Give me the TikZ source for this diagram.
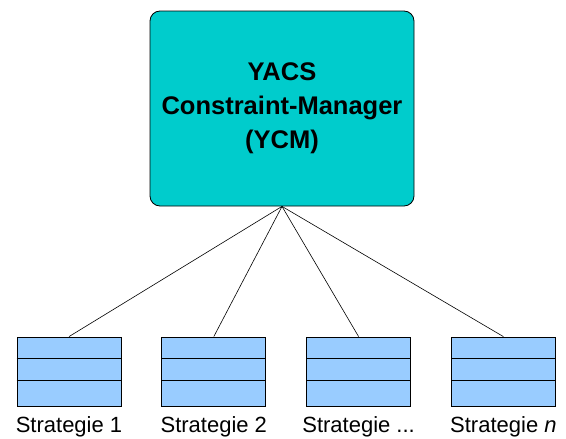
\documentclass[tikz,border=0pt]{standalone}
\usepackage{fontspec}
\setmainfont{Liberation Sans}
\usetikzlibrary{positioning}
\definecolor{ycmcyan}{RGB}{0,204,204}
\definecolor{stratblue}{RGB}{153,204,255}
\tikzset{
    %Define style for the manager box
    mgr/.style={
           rectangle, rounded corners=10pt,
           draw=black, fill=ycmcyan, line width=0.8pt,
           minimum width=264pt, minimum height=195pt,
           align=center,
           font=\bfseries\fontsize{25.5}{34}\selectfont},
    %Define style for strategy boxes
    strat/.style={
           rectangle,
           draw=black, fill=stratblue, line width=0.8pt,
           minimum width=104pt, minimum height=69pt},
    % Define line style
    lin/.style={
           line width=0.6pt}
}
\begin{document}
\begin{tikzpicture}[x=1pt, y=-1pt, node distance=40pt,
lbl/.style={font=\fontsize{22}{24}\selectfont, inner sep=0pt}
]
\useasboundingbox (0,0) rectangle (566,439);
%Nodes
\node[mgr] (ycm) at (282,108.5) {YACS\\Constraint-Manager\\(YCM)};
\node[strat] (strat1) at (69,371.5) {};
\node[strat] (strat2) [right=of strat1] {};
\node[strat] (strat3) [right=of strat2] {};
\node[strat] (strat4) [right=of strat3] {};
\node[lbl] (lab1) [below=10pt of strat1] {Strategie 1};
\node[lbl] (lab2) [below=10pt of strat2] {Strategie 2};
\node[lbl] (lab3) [below=10pt of strat3] {Strategie ...};
\node[lbl] (lab4) [below=10pt of strat4] {Strategie \textit{n}};
%Lines
\foreach \i in {1,...,4}{
  \draw[line width=0.8pt] ([yshift=-22pt]strat\i.north west) -- ([yshift=-22pt]strat\i.north east);
  \draw[line width=0.8pt] ([yshift=-44pt]strat\i.north west) -- ([yshift=-44pt]strat\i.north east);
  \draw[lin] (ycm.south) -- (strat\i.north);
}
\end{tikzpicture}
\end{document}
